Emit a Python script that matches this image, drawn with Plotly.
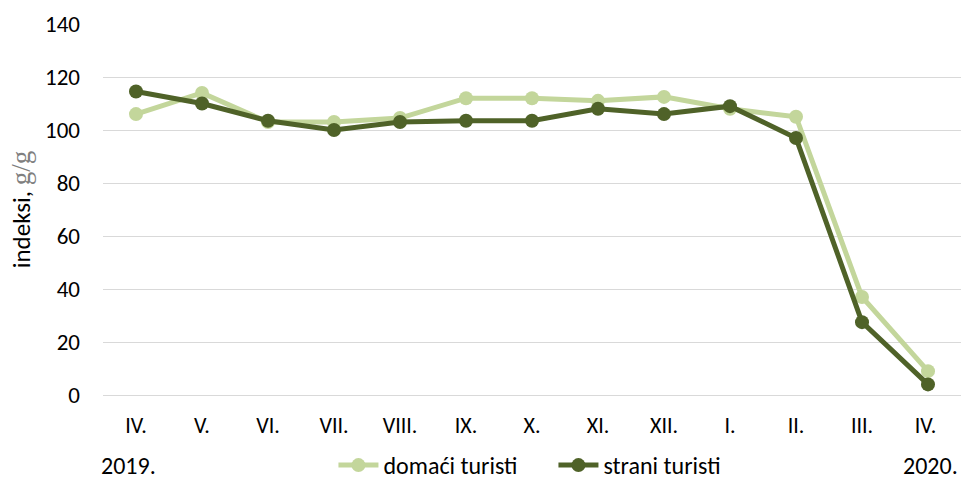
import plotly.graph_objects as go

months = ["IV.", "V.", "VI.", "VII.", "VIII.", "IX.", "X.", "XI.", "XII.", "I.", "II.", "III.", "IV. "]
domaci = [106, 114, 103, 103, 104.5, 112, 112, 111, 112.5, 108, 105, 37, 9]
strani = [114.5, 110, 103.5, 100, 103, 103.5, 103.5, 108, 106, 109, 97, 27.5, 4]
y_ticks = [0, 20, 40, 60, 80, 100, 120, 140]

light = "#C3D69B"
dark = "#4F6228"
font_family = "Carlito, Calibri, Lato, sans-serif"

fig = go.Figure()
fig.add_trace(go.Scatter(x=months, y=domaci, name="domaći turisti", mode="lines+markers",
                         line=dict(color=light, width=5), marker=dict(color=light, size=14)))
fig.add_trace(go.Scatter(x=months, y=strani, name="strani turisti", mode="lines+markers",
                         line=dict(color=dark, width=5), marker=dict(color=dark, size=14)))

fig.update_layout(
    width=961, height=479,
    margin=dict(l=103, r=0, t=24, b=84, autoexpand=False),
    plot_bgcolor="white", paper_bgcolor="white",
    font=dict(family=font_family, size=22, color="#000000"),
    showlegend=True,
    legend=dict(orientation="h", x=0.525, xanchor="center", y=-0.19, yanchor="middle",
                font=dict(size=24), tracegroupgap=0, itemwidth=40, entrywidth=165),
    xaxis=dict(type="category", range=[-0.5, len(months) - 0.5], showgrid=False, showline=False,
               zeroline=False, automargin=False,
               ticks="", ticklabelstandoff=15, tickfont=dict(size=22)),
    yaxis=dict(range=[0, 140], tickvals=y_ticks, showgrid=True, gridcolor="#d9d9d9", gridwidth=1,
               zeroline=True, zerolinecolor="#d9d9d9", zerolinewidth=1, showline=False, automargin=False,
               ticks="", ticklabelstandoff=22, tickfont=dict(size=23),
               title=dict(text="indeksi, <span style='color:#7f7f7f;font-family:Liberation Serif;font-size:27px'>g/g</span>",
                          font=dict(size=25), standoff=7)),
)
fig.add_annotation(text="2019.", x=0.0, xref="paper", xanchor="left", y=-0.19, yref="paper",
                   yanchor="middle", showarrow=False, font=dict(size=24), xshift=-4)
fig.add_annotation(text="2020.", x=1.0, xref="paper", xanchor="right", y=-0.19, yref="paper",
                   yanchor="middle", showarrow=False, font=dict(size=24), xshift=-1)

fig.write_html("out.html", config={"displayModeBar": False},
               post_script="document.body.style.margin='0';")
